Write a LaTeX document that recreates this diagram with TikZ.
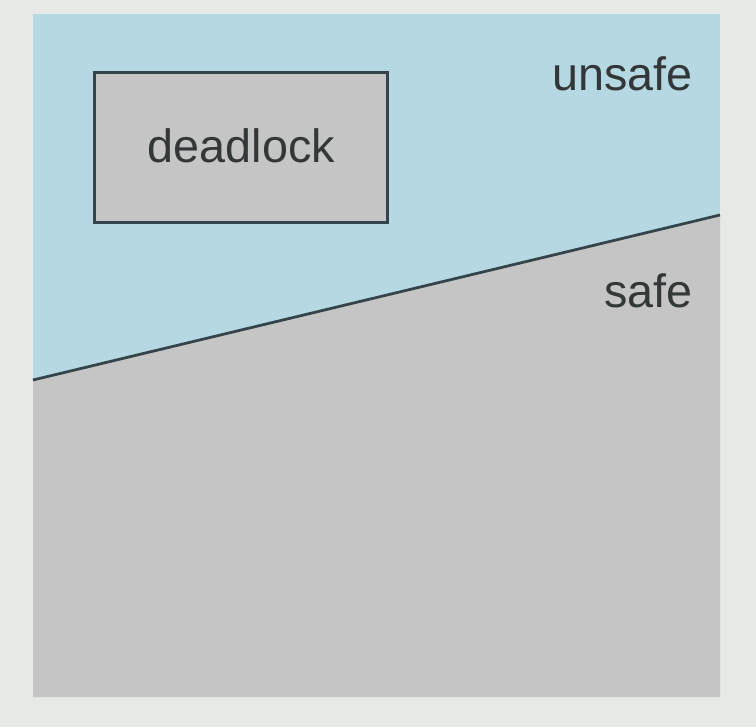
\documentclass[tikz,border=0pt]{standalone}
\usepackage{fontspec}
\setmainfont{Liberation Sans}
\usetikzlibrary{positioning}
\definecolor{paper}{HTML}{E7E9E7}
\definecolor{unsafeblue}{HTML}{B5D8E2}
\definecolor{safegray}{HTML}{C4C5C4}
\definecolor{edge}{HTML}{34444A}
\definecolor{ink}{HTML}{333738}

\begin{document}
\begin{tikzpicture}[x=0.02cm,y=-0.02cm,
  region label/.style={anchor=base east,inner sep=0pt,text=ink,font=\fontsize{26.6}{30}\selectfont}]
% page and the two regions
\fill[paper] (0,0) rectangle (756,727);
\fill[unsafeblue] (33,14) rectangle (720,697);
\fill[safegray] (33,380) -- (720,215) -- (720,697) -- (33,697) -- cycle;
\coordinate (b0) at (33,380);
\coordinate (b1) at (720,215);
\draw[edge,line width=0.055cm] (b0) -- (b1);
% deadlock box
\node[rectangle,draw=edge,fill=safegray,line width=0.06cm,minimum width=5.88cm,minimum height=3.02cm,inner sep=0pt] (dbox) at (241,147.5) {};
\node[anchor=base,inner sep=0pt,text=ink,font=\fontsize{26.6}{30}\selectfont] (dtext) at (241.5,162) {deadlock};
% labels
\node[region label] (unsafe) at (693,90) {unsafe};
\node[region label] (safe) at (693,307) {safe};
\end{tikzpicture}
\end{document}
